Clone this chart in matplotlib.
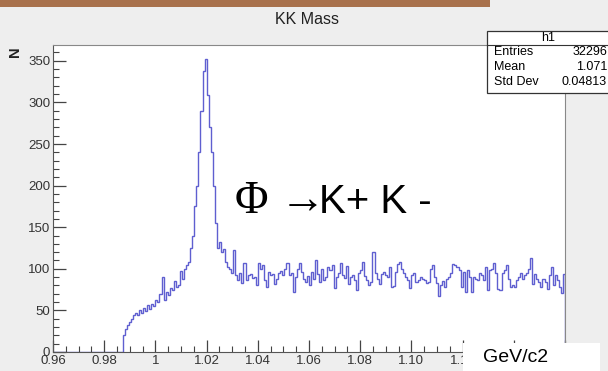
import numpy as np
import matplotlib.pyplot as plt
from matplotlib.patches import Rectangle

# histogram h1: 250 bins of 0.0008 GeV/c2 from 0.96 to 1.16 (counts)
x_lo, x_hi, n_bins = 0.96, 1.16, 250
counts = [0] * 34 + [
    20, 28, 32, 36, 40, 44, 47, 45, 50, 47,
    53, 49, 57, 52, 58, 55, 63, 60, 70, 90,
    62, 72, 68, 77, 74, 85, 78, 80, 97, 88,
    100, 105, 108, 125, 140, 175, 200, 240, 290, 338,
    352, 309, 270, 240, 200, 155, 125, 132, 120, 124,
    108, 102, 100, 95, 123, 92, 87, 95, 83, 107,
    87, 92, 94, 89, 90, 80, 107, 100, 104, 87,
    78, 96, 92, 94, 82, 88, 95, 97, 92, 100,
    107, 93, 95, 72, 90, 100, 107, 96, 88, 84,
    91, 81, 96, 88, 110, 94, 84, 100, 86, 90,
    102, 98, 104, 77, 90, 95, 107, 92, 89, 103,
    82, 90, 93, 86, 74, 95, 99, 108, 91, 86,
    80, 84, 120, 95, 88, 82, 94, 96, 92, 90,
    102, 78, 79, 96, 106, 108, 100, 95, 90, 86,
    77, 92, 95, 84, 86, 90, 88, 86, 83, 84,
    100, 104, 90, 83, 67, 80, 85, 78, 88, 90,
    95, 106, 104, 102, 98, 78, 96, 72, 98, 90,
    72, 90, 88, 86, 95, 92, 86, 102, 75, 98,
    100, 107, 95, 76, 74, 95, 99, 104, 88, 78,
    80, 78, 86, 90, 95, 88, 92, 95, 100, 113,
    82, 94, 88, 84, 78, 88, 84, 76, 92, 102,
    80, 92, 86, 78, 71, 94,
]
edges = np.linspace(x_lo, x_hi, n_bins + 1)

x_ticks = [0.96, 0.98, 1.00, 1.02, 1.04, 1.06, 1.08, 1.10, 1.12, 1.14, 1.16]
x_labels = ["0.96", "0.98", "1", "1.02", "1.04", "1.06", "1.08", "1.10", "1.12", "1.14", "1.16"]
y_ticks = [0, 50, 100, 150, 200, 250, 300, 350]

stat_names = ["Entries", "Mean", "Std Dev"]
stat_values = ["32296", "1.071", "0.04813"]

W, H = 608, 371


def fx(x):
    return x / W


def fy(y):
    return 1 - y / H


plt.rcParams['font.family'] = ['Liberation Sans', 'DejaVu Sans']

fig = plt.figure(figsize=(W / 100, H / 100), dpi=100, facecolor='#eeeeee')
ax = fig.add_axes([fx(53), fy(352), (565 - 53) / W, (352 - 45) / H])
ax.set_facecolor('white')

ax.stairs(counts, edges, color='#5f5fd0', linewidth=1.0)

ax.set_xlim(x_lo, x_hi)
ax.set_ylim(0, 369)
ax.set_xticks(x_ticks)
ax.set_xticklabels(x_labels)
ax.set_yticks(y_ticks)
ax.set_xticks(np.arange(0.96, 1.1601, 0.005), minor=True)
ax.set_yticks(np.arange(0, 361, 10), minor=True)
ax.tick_params(which='both', direction='in', colors='#444444', labelcolor='#333333',
               labelsize=9.5)
ax.tick_params(which='major', length=9, width=0.9)
ax.tick_params(which='minor', length=4.5, width=0.8)
ax.tick_params(axis='x', pad=2)
ax.tick_params(axis='y', pad=2)
for side in ['left', 'bottom']:
    ax.spines[side].set_color('#555555')
for side in ['top', 'right']:
    ax.spines[side].set_color('#888888')

# title and axis title
fig.text(fx(307), fy(20), "KK Mass", ha='center', va='center', fontsize=11.5, color='#222222')
fig.text(fx(15), fy(52), "N", ha='center', va='center', rotation=90, fontsize=10.5,
         fontweight='bold', color='#222222')

# top toolbar strip
fig.patches.append(Rectangle((0, fy(7)), fx(490), 7 / H, transform=fig.transFigure,
                             facecolor='#a8714c', edgecolor='none'))

# stats box
fig.patches.append(Rectangle((fx(487), fy(93)), fx(130), (93 - 31) / H,
                             transform=fig.transFigure, facecolor='white',
                             edgecolor='#333333', linewidth=0.9, zorder=5))
fig.lines.append(plt.Line2D([fx(487), 1], [fy(45), fy(45)], transform=fig.transFigure,
                            color='#333333', linewidth=0.8, zorder=6))
fig.text(fx(548), fy(38), "h1", ha='center', va='center', fontsize=9, zorder=7)
for i, (name, val) in enumerate(zip(stat_names, stat_values)):
    yy = fy(52 + 15 * i)
    fig.text(fx(494), yy, name, ha='left', va='center', fontsize=9, zorder=7)
    fig.text(fx(607), yy, val, ha='right', va='center', fontsize=9, zorder=7)

# slide overlays
fig.text(fx(235), fy(213), "Φ →", ha='left', va='baseline', fontsize=33,
         family=['Liberation Serif', 'DejaVu Serif'], color='black')
fig.text(fx(319), fy(213), "K+ K -", ha='left', va='baseline', fontsize=29,
         color='black')
fig.patches.append(Rectangle((fx(463), 0), fx(600 - 463), (371 - 343) / H,
                             transform=fig.transFigure, facecolor='white',
                             edgecolor='none', zorder=8))
fig.text(fx(483), fy(358), "GeV/c2", ha='left', va='center', fontsize=14, color='black',
         zorder=9)

fig.savefig('out.png', dpi=100, facecolor=fig.get_facecolor())
